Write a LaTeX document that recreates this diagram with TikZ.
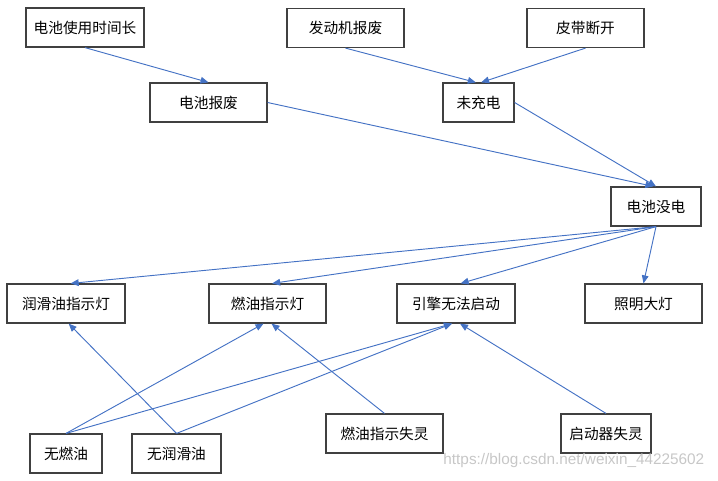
\documentclass[tikz,border=0pt]{standalone}
\usepackage{fontspec}
\newfontfamily\cjk{Noto Sans CJK SC}
\newfontfamily\wmfont{Liberation Sans}
\usetikzlibrary{arrows.meta}
\definecolor{linkblue}{RGB}{68,114,196}

\begin{document}
\begin{tikzpicture}[
    x=0.75pt, y=-0.75pt,
    box/.style = {draw=black!75, line width=0.9pt, minimum height=29.25pt,
                  inner sep=0pt, font=\cjk\fontsize{11}{13}\selectfont},
    arr/.style = {draw=linkblue, line width=0.7pt,
                  -{Triangle[length=6pt,width=5pt]}}
                    ]
\useasboundingbox (0,0) rectangle (718,480);
% top row
\node (dcsy) [box, minimum width=88.5pt]  at (85,27.5)    {电池使用时间长};
\node (fdj)  [box, minimum width=87.75pt] at (345.5,28)   {发动机报废};
\node (pd)   [box, minimum width=87.75pt] at (585.5,28)   {皮带断开};
\node (dcbf) [box, minimum width=87.75pt] at (208.5,102.5) {电池报废};
\node (wcd)  [box, minimum width=53.25pt] at (478.5,102.5) {未充电};
\node (dcmd) [box, minimum width=67.5pt]  at (656,206.5)  {电池没电};
% symptoms
\node (rhy)  [box, minimum width=88.5pt]  at (66,303.5)   {润滑油指示灯};
\node (ryzs) [box, minimum width=87.75pt] at (267.5,303.5) {燃油指示灯};
\node (yq)   [box, minimum width=88.5pt]  at (456,303.5)  {引擎无法启动};
\node (zm)   [box, minimum width=87.75pt] at (643.5,303.5) {照明大灯};
% bottom row
\node (wry)  [box, minimum width=54pt]    at (66,453.5)   {无燃油};
\node (wrhy) [box, minimum width=66.75pt] at (176.5,453.5) {无润滑油};
\node (rysl) [box, minimum width=87.75pt] at (384.5,433.5) {燃油指示失灵};
\node (qdq)  [box, minimum width=67.5pt]  at (606,433.5)  {启动器失灵};

\draw[arr] (dcsy.south) -- (dcbf.north);
\draw[arr] (fdj.south)  -- ([xshift=-2pt]wcd.north);
\draw[arr] (pd.south)   -- ([xshift=2pt]wcd.north);
\draw[arr] (dcbf.east)  -- ([xshift=-2pt]dcmd.north);
\draw[arr] (wcd.east)   -- (dcmd.north);
\foreach \t in {rhy,ryzs,yq}
    \draw[arr] (dcmd.south) -- ([xshift=3.5pt]\t.north);
\draw[arr] (dcmd.south) -- (zm.north);
\draw[arr] (wry.north)  -- ([xshift=-3pt]ryzs.south);
\draw[arr] (wry.north)  -- ([xshift=-3pt]yq.south);
\draw[arr] (wrhy.north) -- ([xshift=2pt]rhy.south);
\draw[arr] (wrhy.north) -- ([xshift=-3pt]yq.south);
\draw[arr] (rysl.north) -- ([xshift=3pt]ryzs.south);
\draw[arr] (qdq.north)  -- ([xshift=3pt]yq.south);

\node (wm) [font=\wmfont\fontsize{11.5}{13}\selectfont, text=black!22, anchor=east]
    at (709,461) {https://blog.csdn.net/weixin\_44225602};
\end{tikzpicture}
\end{document}
